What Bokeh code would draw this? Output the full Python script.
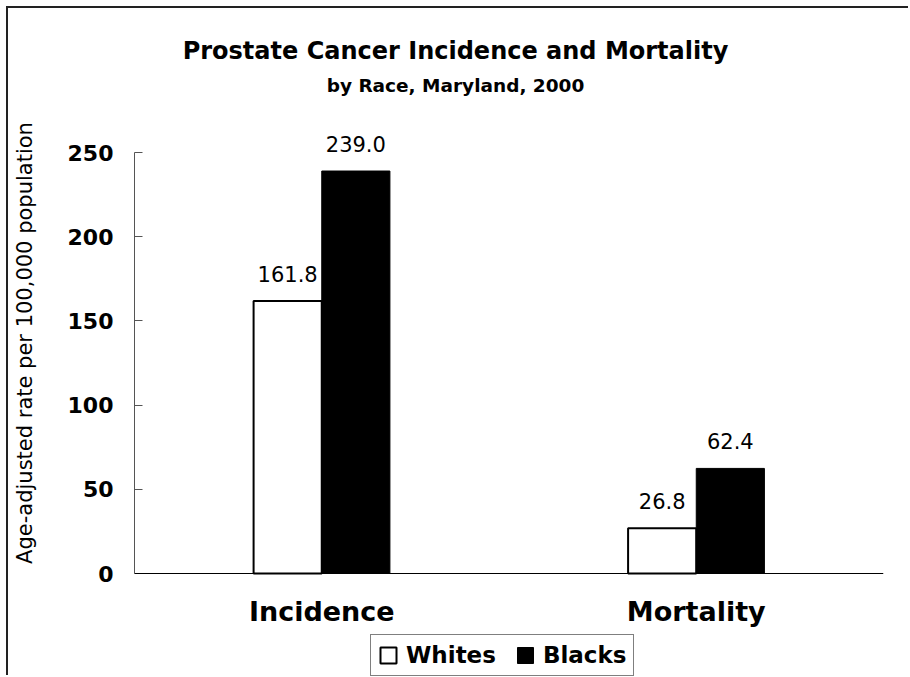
from bokeh.plotting import figure
from bokeh.models import (FactorRange, Range1d, FixedTicker, Legend, LegendItem,
                          Label, Span, ColumnDataSource)
from bokeh.transform import dodge
from bokeh.core.properties import value
from bokeh.embed import file_html
from bokeh.resources import INLINE

# ---- data ----
categories = ["Incidence", "Mortality"]
series = ["Whites", "Blacks"]
whites = [161.8, 26.8]
blacks = [239.0, 62.4]
y_ticks = [0, 50, 100, 150, 200, 250]
title_text = "Prostate Cancer Incidence and Mortality"
subtitle_text = "by Race, Maryland, 2000"
y_label = "Age-adjusted rate per 100,000 population"

FONT = "DejaVu Sans"

src = ColumnDataSource(dict(
    cat=categories,
    zero=[0, 0],
    whites=whites,
    blacks=blacks,
    wl=[f"{v:.1f}" for v in whites],
    bl=[f"{v:.1f}" for v in blacks],
))

# frame covers the whole canvas height; 0 sits 104 px above the bottom, 250 at 144 px from top
H = 669
PX = 421 / 250
Y0 = -(H - 565) / PX
Y1 = 250 + 144 / PX

p = figure(x_range=FactorRange(*categories), y_range=Range1d(Y0, Y1),
           width=902, height=H, output_backend="svg", toolbar_location=None,
           min_border_left=126, min_border_right=27,
           min_border_top=0, min_border_bottom=0)
p.margin = (8, 0, 0, 8)
p.styles = {"box-shadow": "-2px -2px 0 0 #222222"}
p.grid.visible = False
p.outline_line_color = None
p.background_fill_color = "white"
p.border_fill_color = "white"

BW = 0.182
r_w = p.vbar(x=dodge("cat", -BW / 2, range=p.x_range), top="whites", width=BW,
             source=src, fill_color="white", line_color="black", line_width=2)
r_b = p.vbar(x=dodge("cat", BW / 2, range=p.x_range), top="blacks", width=BW,
             source=src, fill_color="black", line_color="black", line_width=1)

for col, lab, off in (("whites", "wl", -BW / 2), ("blacks", "bl", BW / 2)):
    p.text(x=dodge("cat", off, range=p.x_range), y=col, text=lab, source=src,
           text_align="center", text_baseline="alphabetic", y_offset=-27,
           text_font=value(FONT), text_font_size="21px", text_color="black")

# category labels under the baseline
p.text(x="cat", y="zero", text="cat", source=src, text_align="center",
       text_baseline="alphabetic", y_offset=38, text_font=value(FONT),
       text_font_size="27px", text_font_style="bold", text_color="black")

# x baseline (category axis labels are drawn above as text)
p.xaxis.visible = False
p.add_layout(Span(location=0, dimension="width", line_color="black", line_width=1))

ya = p.yaxis[0]
ya.ticker = FixedTicker(ticks=y_ticks)
ya.bounds = (0, 250)
ya.major_label_text_font = FONT
ya.major_label_text_font_size = "22px"
ya.major_label_text_font_style = "bold"
ya.major_label_text_color = "black"
ya.minor_tick_line_color = None
ya.major_tick_in = 8
ya.major_tick_out = 0
ya.major_tick_line_color = "#555555"
ya.axis_line_color = "#555555"
ya.major_label_standoff = 21
ya.axis_label = y_label
ya.axis_label_text_font = FONT
ya.axis_label_text_font_size = "21px"
ya.axis_label_text_font_style = "normal"
ya.axis_label_text_color = "black"
ya.axis_label_standoff = 28

# titles
p.add_layout(Label(x=321, y=H - 42, x_units="screen", y_units="screen", text=title_text,
                   text_align="center", text_baseline="alphabetic",
                   text_font=FONT, text_font_size="24px", text_font_style="bold",
                   text_color="black"))
p.add_layout(Label(x=321, y=H - 77, x_units="screen", y_units="screen", text=subtitle_text,
                   text_align="center", text_baseline="alphabetic",
                   text_font=FONT, text_font_size="18.5px", text_font_style="bold",
                   text_color="black"))

legend = Legend(items=[LegendItem(label=series[0], renderers=[r_w]),
                       LegendItem(label=series[1], renderers=[r_b])],
                orientation="horizontal", location=(236, 1), margin=0,
                padding=7, spacing=19, label_standoff=8,
                glyph_width=20, glyph_height=20,
                label_text_font=FONT, label_text_font_size="23px",
                label_text_font_style="bold", label_text_color="black",
                border_line_color="black", border_line_width=1,
                background_fill_color="white", background_fill_alpha=1)
p.add_layout(legend, "center")

open("out.html", "w").write(file_html(p, INLINE))
